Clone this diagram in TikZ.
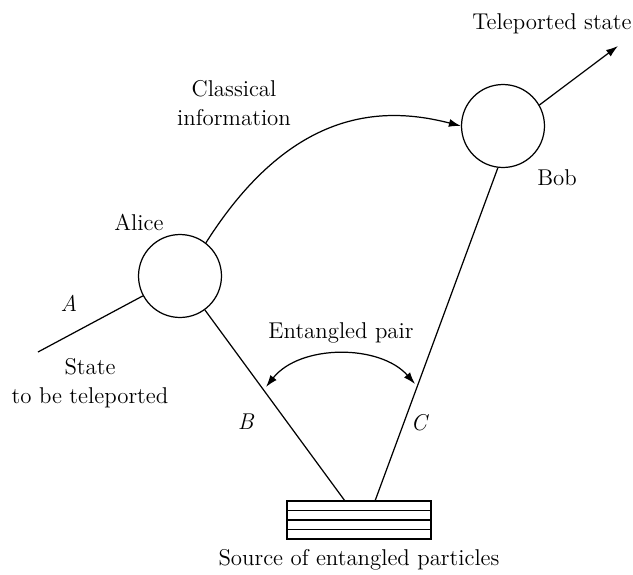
\documentclass[tikz,border=0pt]{standalone}
\usetikzlibrary{arrows.meta, calc}

\begin{document}
\begin{tikzpicture}[x=0.02cm, y=-0.02cm, line width=0.7pt,
	party/.style={circle, draw, minimum size=1.66cm, inner sep=0pt},
	lbl/.style={font=\fontsize{13}{16.5}\selectfont, align=center, inner sep=0pt},
	arr/.style={-{Latex[length=2.4mm, width=1.6mm]}},
	dblarr/.style={{Latex[length=2.4mm, width=1.6mm]}-{Latex[length=2.4mm, width=1.6mm]}}]
	\useasboundingbox (0,0) rectangle (633,575);
	\node[party] (alice) at (180,276) {};
	\node[party] (bob) at (503,126) {};
	\node[draw, minimum width=2.88cm, minimum height=0.76cm, inner sep=0pt] (src) at (359,520) {};
	\foreach \k in {1,2,3}
		\draw ($(src.north west)!\k/4!(src.south west)$) -- ($(src.north east)!\k/4!(src.south east)$);
	\coordinate (stateA) at (38,352);
	\coordinate (tele) at (618,46);
	\coordinate (srcB) at (345,501);
	\coordinate (srcC) at (375,501);
	\coordinate (pairB) at (266,387);
	\coordinate (pairC) at (415,384);
	\draw (stateA) -- (alice);
	\draw (alice) -- (srcB);
	\draw (bob.-97) -- (srcC);
	\draw[arr] (bob.30) -- (tele);
	\draw[arr] (alice.52) .. controls (290,110) and (380,105) .. (bob.west);
	\draw[dblarr] (pairB) .. controls (300,344) and (380,344) .. (pairC);
	\node[lbl] (teletxt) at (552,24) {Teleported state};
	\node[lbl] (classtxt) at (234,103) {Classical\\information};
	\node[lbl] (alicetxt) at (139,222) {Alice};
	\node[lbl] (bobtxt) at (557,178) {Bob};
	\node[lbl] (labA) at (69,303) {\textit{A}};
	\node[lbl] (labB) at (246,422) {\textit{B}};
	\node[lbl] (labC) at (420,423) {\textit{C}};
	\node[lbl] (statetxt) at (90,383) {State\\to be teleported};
	\node[lbl] (pairtxt) at (341,333) {Entangled pair};
	\node[lbl] (srctxt) at (359,560) {Source of entangled particles};
\end{tikzpicture}
\end{document}
